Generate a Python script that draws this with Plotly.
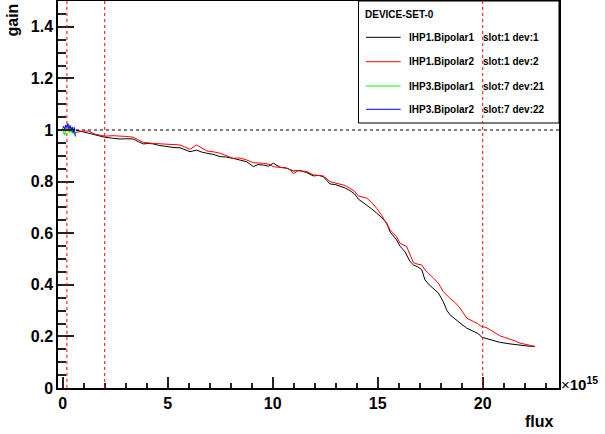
import plotly.graph_objects as go

# x in units of 1e15
black_x = [0.62, 1.0, 1.22, 1.5, 1.78, 2.0, 2.4, 2.73, 3.0, 3.36, 3.6, 3.84, 4.1, 4.31, 4.6, 4.95, 5.3, 5.59, 5.8, 6.06, 6.38, 6.6, 6.86, 7.2, 7.49, 7.8, 8.12, 8.5, 8.76, 9.08, 9.3, 9.55, 9.8, 10.03, 10.35, 10.67, 10.98, 11.3, 11.62, 11.93, 12.2, 12.41, 12.73, 13.0, 13.2, 13.45, 13.68, 13.9, 14.08, 14.3, 14.48, 14.7, 14.95, 15.2, 15.43, 15.59, 15.9, 16.06, 16.3, 16.54, 16.7, 16.9, 17.1, 17.25, 17.45, 17.65, 17.89, 18.12, 18.3, 18.44, 18.7, 18.92, 19.24, 19.55, 19.8, 19.95, 20.35, 20.82, 21.3, 21.78, 22.1, 22.49]
black_y = [1.0, 0.993, 0.987, 0.984, 0.978, 0.972, 0.968, 0.965, 0.966, 0.965, 0.955, 0.946, 0.948, 0.946, 0.94, 0.935, 0.932, 0.931, 0.925, 0.916, 0.922, 0.915, 0.91, 0.905, 0.897, 0.895, 0.89, 0.884, 0.877, 0.858, 0.866, 0.864, 0.86, 0.871, 0.856, 0.852, 0.841, 0.843, 0.835, 0.822, 0.824, 0.819, 0.791, 0.788, 0.783, 0.775, 0.765, 0.752, 0.732, 0.72, 0.71, 0.695, 0.678, 0.66, 0.639, 0.605, 0.574, 0.55, 0.528, 0.49, 0.477, 0.47, 0.458, 0.419, 0.4, 0.387, 0.368, 0.335, 0.3, 0.284, 0.265, 0.252, 0.232, 0.219, 0.21, 0.197, 0.187, 0.177, 0.171, 0.165, 0.163, 0.161]

red_x = [0.6, 0.9, 1.22, 1.54, 1.78, 2.0, 2.4, 2.73, 3.0, 3.36, 3.6, 3.84, 4.31, 4.95, 5.59, 5.8, 6.06, 6.38, 6.6, 6.86, 7.2, 7.49, 8.12, 8.4, 8.76, 9.08, 9.55, 9.8, 10.03, 10.35, 10.67, 10.85, 10.98, 11.2, 11.62, 11.93, 12.41, 12.73, 13.0, 13.2, 13.45, 13.68, 13.9, 14.08, 14.48, 14.7, 14.95, 15.2, 15.43, 15.59, 15.9, 16.06, 16.38, 16.54, 16.7, 16.9, 17.1, 17.25, 17.45, 17.65, 17.89, 18.12, 18.44, 18.7, 18.92, 19.24, 19.55, 19.75, 19.95, 20.15, 20.35, 20.6, 20.82, 21.05, 21.3, 21.55, 21.78, 22.1, 22.49]
red_y = [0.99, 0.995, 0.996, 0.984, 0.98, 0.976, 0.978, 0.977, 0.975, 0.972, 0.962, 0.952, 0.948, 0.945, 0.942, 0.935, 0.925, 0.942, 0.93, 0.919, 0.915, 0.91, 0.89, 0.892, 0.884, 0.873, 0.871, 0.868, 0.858, 0.856, 0.852, 0.845, 0.83, 0.842, 0.839, 0.826, 0.822, 0.8, 0.795, 0.791, 0.785, 0.774, 0.762, 0.744, 0.736, 0.72, 0.697, 0.668, 0.636, 0.613, 0.587, 0.561, 0.548, 0.516, 0.486, 0.48, 0.477, 0.458, 0.44, 0.426, 0.406, 0.374, 0.348, 0.33, 0.31, 0.271, 0.258, 0.25, 0.238, 0.235, 0.226, 0.215, 0.202, 0.196, 0.19, 0.182, 0.174, 0.168, 0.161]

green_x = [0.0, 0.05, 0.1, 0.15, 0.2, 0.25, 0.3, 0.35, 0.4, 0.45, 0.5, 0.55, 0.6]
green_y = [0.985, 0.995, 0.98, 1.0, 0.995, 1.01, 0.99, 1.005, 0.99, 1.0, 0.985, 0.995, 0.98]
blue_x = [0.0, 0.05, 0.1, 0.15, 0.2, 0.25, 0.3, 0.35, 0.4, 0.45, 0.5, 0.55, 0.6]
blue_y = [1.005, 1.015, 1.0, 1.02, 1.01, 1.025, 1.005, 1.018, 1.0, 1.012, 0.99, 1.01, 0.975]

names = ["IHP1.Bipolar1", "IHP1.Bipolar2", "IHP3.Bipolar1", "IHP3.Bipolar2"]
slots = ["slot:1 dev:1", "slot:1 dev:2", "slot:7 dev:21", "slot:7 dev:22"]
colors = ["#000000", "#ff0000", "#00ff00", "#0000ff"]
vlines = [0.2, 2.0, 20.0]

FONT = "Liberation Sans"
L, R, T, B = 58, 46, 1, 46
W, H = 605, 434
PW, PH = W - L - R, H - T - B
TICKC = "#222222"


def px(xp):
    return (xp - L) / PW


def py(yp):
    return (H - B - yp) / PH


fig = go.Figure()
series = [(black_x, black_y), (red_x, red_y), (green_x, green_y), (blue_x, blue_y)]
for (xs, ys), c, n in zip(series, colors, names):
    fig.add_trace(go.Scatter(x=xs, y=ys, mode="lines", line=dict(color=c, width=1), name=n, showlegend=False))

shapes = []
shapes.append(dict(type="line", xref="paper", yref="y", x0=0, x1=1, y0=1, y1=1,
                   line=dict(color="black", width=1, dash="dot"), layer="below"))
shapes.append(dict(type="rect", xref="paper", yref="paper", x0=px(358.5), x1=1.0, y0=py(123), y1=1.0,
                   fillcolor="white", line=dict(color="black", width=1), layer="above"))
for v in vlines:
    shapes.append(dict(type="line", xref="x", yref="paper", x0=v, x1=v, y0=0, y1=1,
                       line=dict(color="red", width=1, dash="dot"), layer="above"))
row_px = [37.3, 61.7, 86, 109.3]
for rp, c in zip(row_px, colors):
    shapes.append(dict(type="line", xref="paper", yref="paper", x0=px(366), x1=px(400.7), y0=py(rp), y1=py(rp),
                       line=dict(color=c, width=1), layer="above"))

ann = []
bf9 = dict(family=FONT, size=10, color="black", weight=700)
ann.append(dict(x=px(362.5), y=py(14), xref="paper", yref="paper", text="DEVICE-SET-0", showarrow=False,
                xanchor="left", yanchor="middle", font=bf9))
for rp, n, s in zip(row_px, names, slots):
    ann.append(dict(x=px(407), y=py(rp), xref="paper", yref="paper", text=n, showarrow=False,
                    xanchor="left", yanchor="middle", font=bf9))
    ann.append(dict(x=px(481), y=py(rp), xref="paper", yref="paper", text=s, showarrow=False,
                    xanchor="left", yanchor="middle", font=bf9))
bf = dict(family=FONT, size=16, color="black", weight=700)
ann.append(dict(x=px(556), y=py(421), xref="paper", yref="paper", text="flux",
                showarrow=False, xanchor="right", yanchor="middle", font=bf))
ann.append(dict(x=px(12), y=py(2), xref="paper", yref="paper", text="gain", textangle=-90,
                showarrow=False, xanchor="center", yanchor="top", font=bf))
ann.append(dict(x=px(559), y=py(383), xref="paper", yref="paper",
                text="×<b>10<sup>15</sup></b>", showarrow=False, xanchor="left", yanchor="middle",
                font=dict(family=FONT, size=15, color="black")))

fig.update_layout(
    template="none",
    width=W, height=H,
    margin=dict(l=L, r=R, t=T, b=B, autoexpand=False),
    paper_bgcolor="white", plot_bgcolor="white",
    shapes=shapes, annotations=ann, showlegend=False,
    xaxis=dict(range=[-0.224, 23.633], tickmode="linear", tick0=0, dtick=5,
               ticks="inside", ticklen=11, tickwidth=1.5, tickcolor=TICKC,
               minor=dict(dtick=1, tick0=0, ticks="inside", ticklen=5, tickcolor=TICKC, tickwidth=1.5),
               showline=True, linecolor="black", linewidth=1.5, mirror=True,
               showgrid=False, zeroline=False, automargin=False,
               tickfont=dict(family=FONT, size=16, color="black", weight=700)),
    yaxis=dict(range=[0, 1.5], tickmode="linear", tick0=0, dtick=0.2,
               ticks="inside", ticklen=16, tickwidth=1.5, tickcolor=TICKC,
               minor=dict(dtick=0.05, tick0=0, ticks="inside", ticklen=8, tickcolor=TICKC, tickwidth=1.5),
               showline=True, linecolor="black", linewidth=1.5, mirror=True,
               showgrid=False, zeroline=False, automargin=False,
               tickfont=dict(family=FONT, size=16, color="black", weight=700)),
)
fig.write_html("out.html", config={"displayModeBar": False},
               post_script="document.body.style.margin='0';document.body.style.overflow='hidden';")
